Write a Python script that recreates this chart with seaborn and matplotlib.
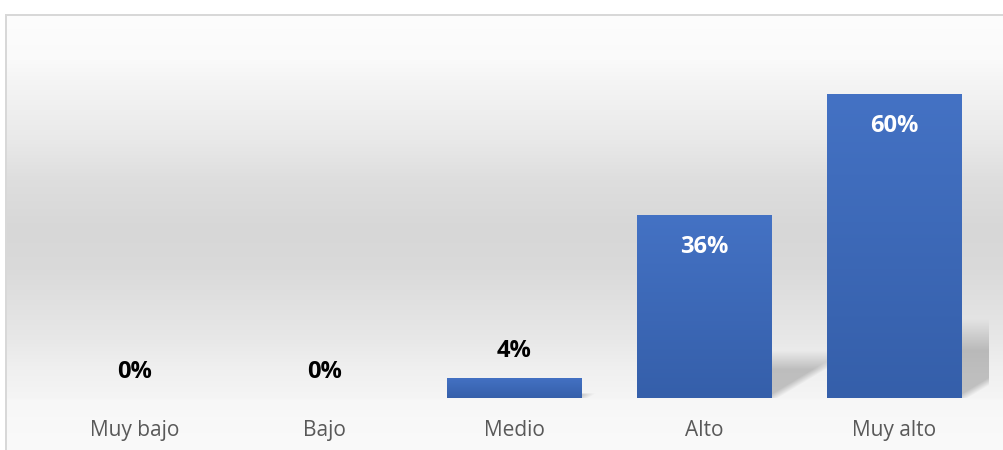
import numpy as np
import matplotlib
matplotlib.use("Agg")
import matplotlib.pyplot as plt
import seaborn as sns

# Data
categories = ["Muy bajo", "Bajo", "Medio", "Alto", "Muy alto"]
shares = [0.00, 0.00, 0.04, 0.36, 0.60]
value_labels = ["0%", "0%", "4%", "36%", "60%"]

W, H = 1004, 450
sns.set_theme(style="white")
plt.rcParams["font.family"] = ["Open Sans", "DejaVu Sans"]

fig = plt.figure(figsize=(W / 100, H / 100), dpi=100)
fig.patch.set_facecolor("white")

# plot area
ax = fig.add_axes([40 / W, (H - 398) / H, (989 - 40) / W, (398 - 43) / H], zorder=1)
ax.patch.set_alpha(0)

sns.barplot(x=categories, y=shares, color="#4472C4", saturation=1,
            width=0.71, ax=ax)
ax.set_xlim(-0.5, len(categories) - 0.5)
ax.set_ylim(0, 0.70)

# vertical gradient fill on each bar
top_rgb = np.array([68, 114, 196]) / 255
bot_rgb = np.array([53, 95, 170]) / 255
t = np.linspace(0, 1, 256)[:, None, None]
bar_grad = top_rgb * (1 - t) + bot_rgb * t
bars = list(ax.patches)
for p in bars:
    h = p.get_height()
    if h <= 0:
        p.set_visible(False)
        continue
    x0, w = p.get_x(), p.get_width()
    im = ax.imshow(bar_grad, extent=[x0, x0 + w, 0, h], origin="upper",
                   aspect="auto", interpolation="bilinear",
                   zorder=p.get_zorder() + 0.1)
    im.set_clip_path(p)
    p.set_facecolor("none")
    p.set_edgecolor("none")
ax.set_xlim(-0.5, len(categories) - 0.5)
ax.set_ylim(0, 0.70)

# value labels: white inside tall bars, black above short ones
for i, (v, lab) in enumerate(zip(shares, value_labels)):
    if v >= 0.2:
        ax.annotate(lab, (i, v), xytext=(0, -23), textcoords="offset points",
                    ha="center", va="center", color="white",
                    fontweight="bold", fontsize=17)
    else:
        ax.annotate(lab, (i, v), xytext=(0, 19), textcoords="offset points",
                    ha="center", va="center", color="black",
                    fontweight="bold", fontsize=17)

ax.set_yticks([])
ax.tick_params(axis="x", length=0, pad=16, labelsize=15, labelcolor="#595959")
for s in ax.spines.values():
    s.set_visible(False)
ax.set_xlabel("")
ax.set_ylabel("")

# chart area background: light vertical gradient inside a thin frame
stops_y = [14, 60, 80, 140, 180, 230, 270, 300, 340, 370, 398, 400, 450]
stops_v = [253, 250, 245, 233, 222, 215, 218, 224, 232, 240, 245, 247, 250]
rows = np.arange(H) + 0.5
shade = np.interp(rows, stops_y, stops_v) / 255
img = np.ones((H, W, 3))
img[14:, 5:, :] = shade[14:, None, None]

# soft shadows cast up and to the right of each bar
yy, xx = np.mgrid[0:H, 0:W] + 0.5
plot_right = ax.bbox.x1
for p in bars:
    h = p.get_height()
    if h <= 0:
        continue
    x0, w = p.get_x(), p.get_width()
    xl, yb = ax.transData.transform((x0, 0))
    xr, yt = ax.transData.transform((x0 + w, h))
    rb, rt = H - yb, H - yt
    sh = 0.26 * (rb - rt)
    if sh < 2:
        continue
    dx = xx - xr
    dy = rb - yy
    diag = np.clip((dy - 0.6 * dx) / 8 + 0.5, 0, 1)
    top = np.clip((sh - dy) / (0.4 * sh), 0, 1)
    a = 0.21 * diag * top * (dx >= 0) * (dy >= 0) * (xx <= plot_right)
    img *= (1 - a[..., None])

# frame lines
frame = 0.85
img[14:16, 5:, :] = frame
img[14:, 5:7, :] = frame

fig.figimage((img * 255).astype(np.uint8), xo=0, yo=0, origin="upper", zorder=0)

fig.savefig("out.png", dpi=100)
